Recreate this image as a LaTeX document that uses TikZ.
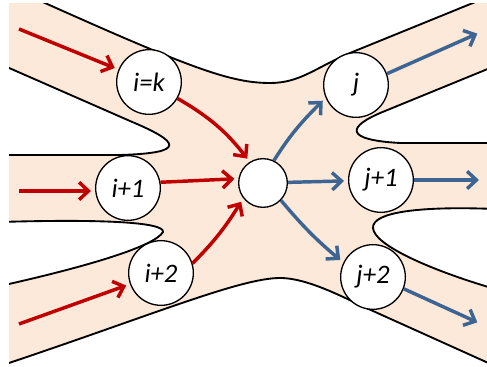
\documentclass[tikz,border=0pt]{standalone}
\usepackage{fontspec}
\setmainfont{Carlito}
\usetikzlibrary{arrows.meta}

\definecolor{peach}{HTML}{FDE9D9}
\definecolor{flowred}{HTML}{C00000}
\definecolor{flowblue}{HTML}{3D6593}

\begin{document}
\begin{tikzpicture}[x=0.75pt, y=-0.75pt,
  site/.style={circle, draw, fill=white, line width=1pt, inner sep=0pt,
    minimum size=48.5pt, font=\fontsize{20}{24}\selectfont\itshape},
  hub/.style={circle, draw, fill=white, line width=1pt, minimum size=36.5pt},
  edge/.style={line width=1.4pt},
  lobe/.style={edge, fill=white},
  inflow/.style={flowred, line width=2.6pt, shorten >=3pt,
    -{Straight Barb[length=7pt,width=13pt]}},
  outflow/.style={inflow, flowblue}]

\useasboundingbox (0,0) rectangle (487,367);

% Channel
\begin{scope}
  \clip (9,4) rectangle (487,367);
  \fill[peach] (0,-6) -- (36,-1) .. controls (190,68) and (230,83) .. (270,83)
    .. controls (300,83) and (315,68) .. (350,53) -- (495,-6) -- (495,366)
    -- (373,311) .. controls (350,301) and (310,278) .. (280,278)
    .. controls (240,278) and (150,316) .. (0,366) -- cycle;

  % White lobes
  \draw[lobe] (0,64) -- (130,121) .. controls (180,142) and (188,153) .. (120,155) -- (0,155);
  \draw[lobe] (0,222) .. controls (100,219) and (165,222) .. (163,232)
    .. controls (155,246) and (90,266) .. (0,286);
  \draw[lobe] (495,66) -- (385,111) .. controls (345,127) and (345,140) .. (400,143) -- (495,143);
  \draw[lobe] (495,209) .. controls (420,206) and (372,212) .. (373,228)
    .. controls (374,245) and (430,270) .. (495,289);

  % Outer edges
  \draw[edge] (36,-1) .. controls (190,68) and (230,83) .. (270,83)
    .. controls (300,83) and (315,68) .. (350,53) -- (495,-6);
  \draw[edge] (0,366) .. controls (150,316) and (240,278) .. (280,278)
    .. controls (310,278) and (350,301) .. (373,311) -- (495,366);
\end{scope}

% Sites
\node[site] (ik) at (149,82) {i=k};
\node[site] (i1) at (128,188) {i+1};
\node[site] (i2) at (161,273) {i+2};
\node[hub] (hub) at (263,183) {};
\node[site] (j) at (356,85) {j};
\node[site] (j1) at (381,180) {j+1};
\node[site] (j2) at (373,277) {j+2};

% Free ends
\coordinate (a1) at (19,29);
\coordinate (a2) at (19,191);
\coordinate (a3) at (19,324);
\coordinate (b1) at (481,32);
\coordinate (b2) at (483,180);
\coordinate (b3) at (481,324);

% Incoming
\draw[inflow] (a1) -- (ik);
\draw[inflow] (a2) -- (a2 -| i1.west);
\draw[inflow] (a3) -- (i2);
\draw[inflow] (ik.-30) to[out=-30, in=128] (hub.122);
\draw[inflow] (i1.10) -- (hub.170);
\draw[inflow] (i2.17) to[out=45, in=238] (hub.218);

% Outgoing
\draw[outflow] (hub.64) to[out=58, in=225] (j.203);
\draw[outflow] (hub) -- (j1);
\draw[outflow] (hub.-44) to[out=-50, in=140] (j2.154);
\draw[outflow] (j.20) -- (b1);
\draw[outflow] (j1) -- (b2);
\draw[outflow] (j2.-21) -- (b3);

\end{tikzpicture}
\end{document}
